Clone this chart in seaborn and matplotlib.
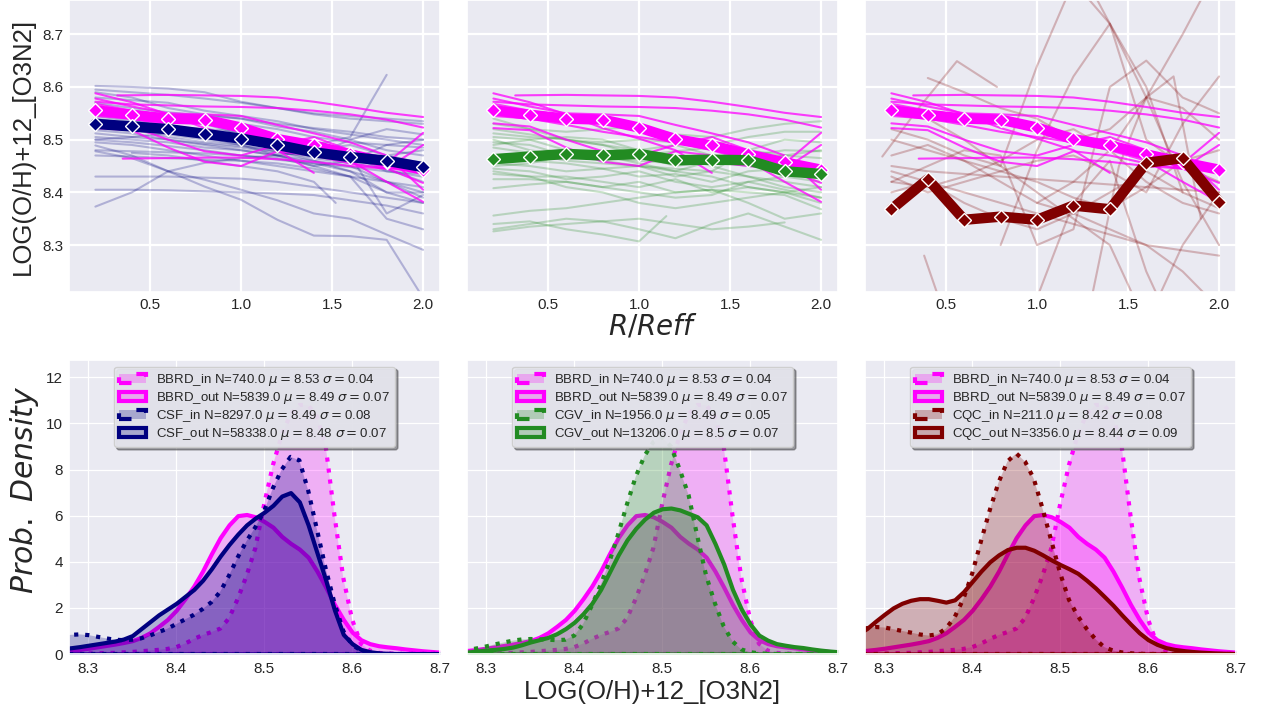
import numpy as np
import pandas as pd
import matplotlib
matplotlib.use("Agg")
import matplotlib.pyplot as plt
from matplotlib.colors import to_rgba
import seaborn as sns

# ---------------------------------------------------------------------------
# Radial metallicity profiles (R/Reff bins) and per-galaxy profiles
# ---------------------------------------------------------------------------
R_BINS = [0.2, 0.4, 0.6, 0.8, 1.0, 1.2, 1.4, 1.6, 1.8, 2.0]

median_bbrd = [8.556, 8.547, 8.540, 8.538, 8.523, 8.501, 8.489, 8.472, 8.457, 8.443]
median_csf = [8.530, 8.525, 8.520, 8.511, 8.502, 8.490, 8.476, 8.467, 8.460, 8.448]
median_cgv = [8.463, 8.468, 8.473, 8.470, 8.473, 8.461, 8.462, 8.461, 8.440, 8.435]
median_cqc = [8.368, 8.425, 8.348, 8.354, 8.348, 8.375, 8.368, 8.456, 8.465, 8.382]

# individual galaxies: (radii, values)
bbrd_profiles = [
    ([0.32, 0.6, 0.8, 1.0, 1.2, 1.4, 1.6, 1.8, 2.0],
     [8.584, 8.585, 8.584, 8.583, 8.580, 8.572, 8.562, 8.551, 8.543]),
    (R_BINS, [8.572, 8.567, 8.565, 8.563, 8.562, 8.560, 8.555, 8.548, 8.538, 8.523]),
    (R_BINS[:7], [8.588, 8.571, 8.548, 8.522, 8.502, 8.480, 8.437]),
    (R_BINS, [8.578, 8.563, 8.550, 8.548, 8.545, 8.528, 8.512, 8.495, 8.470, 8.405]),
    (R_BINS, [8.531, 8.525, 8.500, 8.478, 8.470, 8.490, 8.505, 8.480, 8.455, 8.513]),
    (R_BINS, [8.522, 8.518, 8.485, 8.458, 8.450, 8.478, 8.470, 8.455, 8.445, 8.490]),
    ([0.35, 0.6, 0.8, 1.0, 1.2, 1.4, 1.6, 1.8, 2.0],
     [8.464, 8.465, 8.466, 8.466, 8.463, 8.458, 8.450, 8.445, 8.440]),
    (R_BINS, [8.568, 8.555, 8.545, 8.530, 8.520, 8.505, 8.490, 8.470, 8.445, 8.418]),
    (R_BINS, [8.545, 8.540, 8.528, 8.515, 8.505, 8.495, 8.480, 8.460, 8.420, 8.382]),
]

csf_profiles = [
    (R_BINS, [8.602, 8.600, 8.597, 8.590, 8.572, 8.560, 8.548, 8.540, 8.535, 8.530]),
    (R_BINS, [8.595, 8.590, 8.585, 8.578, 8.570, 8.560, 8.550, 8.545, 8.540, 8.535]),
    (R_BINS, [8.590, 8.580, 8.560, 8.548, 8.540, 8.530, 8.522, 8.515, 8.505, 8.500]),
    (R_BINS, [8.580, 8.575, 8.570, 8.555, 8.545, 8.535, 8.520, 8.510, 8.500, 8.490]),
    (R_BINS, [8.570, 8.560, 8.552, 8.545, 8.540, 8.525, 8.515, 8.500, 8.480, 8.470]),
    (R_BINS, [8.560, 8.555, 8.548, 8.540, 8.530, 8.520, 8.505, 8.495, 8.490, 8.485]),
    (R_BINS, [8.555, 8.545, 8.540, 8.535, 8.520, 8.505, 8.490, 8.470, 8.440, 8.430]),
    (R_BINS[:9], [8.548, 8.545, 8.540, 8.530, 8.510, 8.500, 8.490, 8.505, 8.623]),
    (R_BINS, [8.545, 8.535, 8.525, 8.520, 8.515, 8.505, 8.495, 8.480, 8.460, 8.450]),
    (R_BINS, [8.540, 8.530, 8.522, 8.510, 8.500, 8.490, 8.480, 8.470, 8.360, 8.395]),
    (R_BINS, [8.535, 8.525, 8.515, 8.505, 8.495, 8.485, 8.470, 8.460, 8.450, 8.440]),
    (R_BINS, [8.530, 8.522, 8.510, 8.500, 8.490, 8.478, 8.465, 8.455, 8.445, 8.420]),
    (R_BINS, [8.525, 8.520, 8.505, 8.495, 8.488, 8.478, 8.460, 8.440, 8.420, 8.400]),
    (R_BINS, [8.518, 8.512, 8.500, 8.490, 8.480, 8.470, 8.460, 8.450, 8.420, 8.390]),
    (R_BINS, [8.512, 8.505, 8.500, 8.492, 8.485, 8.475, 8.470, 8.500, 8.520, 8.510]),
    (R_BINS, [8.505, 8.500, 8.495, 8.485, 8.480, 8.470, 8.455, 8.440, 8.400, 8.380]),
    (R_BINS, [8.500, 8.495, 8.488, 8.480, 8.470, 8.465, 8.450, 8.430, 8.350, 8.330]),
    (R_BINS, [8.495, 8.490, 8.480, 8.470, 8.460, 8.450, 8.440, 8.430, 8.420, 8.410]),
    (R_BINS, [8.489, 8.470, 8.440, 8.424, 8.405, 8.385, 8.360, 8.350, 8.320, 8.291]),
    (R_BINS, [8.480, 8.478, 8.476, 8.474, 8.470, 8.462, 8.455, 8.448, 8.440, 8.435]),
    (R_BINS, [8.478, 8.465, 8.440, 8.411, 8.386, 8.348, 8.318, 8.317, 8.310, 8.200]),
    (R_BINS, [8.470, 8.468, 8.465, 8.462, 8.460, 8.455, 8.445, 8.430, 8.400, 8.400]),
    (R_BINS, [8.430, 8.430, 8.430, 8.428, 8.426, 8.420, 8.410, 8.400, 8.390, 8.380]),
    (R_BINS, [8.405, 8.405, 8.404, 8.402, 8.400, 8.398, 8.395, 8.385, 8.375, 8.360]),
    (R_BINS, [8.373, 8.400, 8.440, 8.456, 8.465, 8.470, 8.480, 8.490, 8.470, 8.455]),
    ([0.4, 0.6, 0.8, 1.0, 1.2, 1.4, 1.52],
     [8.475, 8.470, 8.460, 8.450, 8.440, 8.420, 8.380]),
    (R_BINS, [8.500, 8.505, 8.512, 8.515, 8.505, 8.490, 8.470, 8.460, 8.470, 8.480]),
    (R_BINS, [8.560, 8.540, 8.520, 8.505, 8.490, 8.470, 8.450, 8.460, 8.490, 8.500]),
]

cgv_profiles = [
    (R_BINS, [8.530, 8.520, 8.515, 8.520, 8.525, 8.510, 8.505, 8.520, 8.530, 8.535]),
    (R_BINS, [8.520, 8.510, 8.500, 8.495, 8.500, 8.495, 8.490, 8.505, 8.515, 8.515]),
    (R_BINS, [8.512, 8.505, 8.500, 8.490, 8.470, 8.478, 8.485, 8.470, 8.480, 8.478]),
    (R_BINS, [8.505, 8.500, 8.480, 8.475, 8.480, 8.490, 8.470, 8.460, 8.470, 8.465]),
    (R_BINS, [8.495, 8.490, 8.470, 8.465, 8.460, 8.455, 8.470, 8.465, 8.455, 8.450]),
    (R_BINS, [8.485, 8.475, 8.460, 8.455, 8.450, 8.440, 8.460, 8.470, 8.450, 8.445]),
    (R_BINS, [8.470, 8.460, 8.455, 8.445, 8.430, 8.435, 8.420, 8.440, 8.445, 8.425]),
    (R_BINS, [8.455, 8.450, 8.440, 8.445, 8.450, 8.430, 8.440, 8.430, 8.420, 8.410]),
    (R_BINS, [8.445, 8.440, 8.425, 8.430, 8.440, 8.420, 8.410, 8.420, 8.405, 8.390]),
    (R_BINS, [8.435, 8.430, 8.430, 8.420, 8.410, 8.425, 8.400, 8.410, 8.400, 8.380]),
    (R_BINS, [8.425, 8.425, 8.420, 8.410, 8.420, 8.400, 8.405, 8.400, 8.395, 8.368]),
    (R_BINS, [8.408, 8.415, 8.420, 8.410, 8.400, 8.390, 8.395, 8.420, 8.430, 8.420]),
    (R_BINS, [8.356, 8.365, 8.370, 8.380, 8.390, 8.400, 8.405, 8.380, 8.350, 8.360]),
    (R_BINS[:9], [8.326, 8.335, 8.340, 8.345, 8.350, 8.340, 8.330, 8.335, 8.343]),
    ([0.2, 0.4, 0.6, 0.8, 1.0, 1.15], [8.340, 8.345, 8.330, 8.320, 8.307, 8.355]),
    (R_BINS, [8.330, 8.340, 8.350, 8.345, 8.330, 8.313, 8.340, 8.360, 8.335, 8.310]),
    (R_BINS, [8.540, 8.520, 8.500, 8.490, 8.480, 8.470, 8.460, 8.450, 8.440, 8.430]),
    (R_BINS, [8.470, 8.475, 8.480, 8.470, 8.455, 8.440, 8.430, 8.410, 8.400, 8.390]),
    (R_BINS, [8.450, 8.455, 8.470, 8.480, 8.470, 8.450, 8.460, 8.480, 8.470, 8.480]),
    (R_BINS, [8.490, 8.500, 8.505, 8.500, 8.480, 8.470, 8.450, 8.430, 8.410, 8.400]),
    (R_BINS, [8.440, 8.430, 8.410, 8.400, 8.380, 8.370, 8.380, 8.390, 8.400, 8.410]),
    (R_BINS, [8.500, 8.480, 8.470, 8.460, 8.450, 8.445, 8.440, 8.480, 8.500, 8.495]),
]

cqc_profiles = [
    ([0.15, 0.35, 0.56, 0.78], [8.468, 8.560, 8.649, 8.600]),
    (R_BINS[1:], [8.617, 8.590, 8.560, 8.540, 8.500, 8.520, 8.580, 8.560, 8.500]),
    (R_BINS, [8.440, 8.420, 8.400, 8.380, 8.360, 8.340, 8.320, 8.300, 8.290, 8.280]),
    (R_BINS, [8.520, 8.500, 8.470, 8.450, 8.640, 8.800, 8.720, 8.500, 8.450, 8.420]),
    ([0.38, 0.5], [8.280, 8.160]),
    (R_BINS, [8.420, 8.450, 8.480, 8.470, 8.300, 8.330, 8.600, 8.650, 8.580, 8.550]),
    (R_BINS, [8.560, 8.540, 8.500, 8.450, 8.400, 8.350, 8.300, 8.150, 8.300, 8.400]),
    (R_BINS, [8.470, 8.490, 8.460, 8.420, 8.380, 8.420, 8.480, 8.580, 8.700, 8.830]),
    (R_BINS[4:], [8.380, 8.360, 8.330, 8.300, 8.250, 8.180]),
    (R_BINS, [8.450, 8.440, 8.435, 8.430, 8.425, 8.420, 8.415, 8.410, 8.405, 8.400]),
    (R_BINS[3:9], [8.300, 8.480, 8.620, 8.720, 8.600, 8.400]),
    (R_BINS[4:9], [8.200, 8.380, 8.460, 8.250, 8.100]),
    (R_BINS, [8.420, 8.410, 8.430, 8.460, 8.500, 8.520, 8.480, 8.420, 8.380, 8.360]),
    (R_BINS, [8.500, 8.480, 8.460, 8.440, 8.420, 8.390, 8.370, 8.410, 8.460, 8.480]),
    (R_BINS[5:], [8.850, 8.720, 8.580, 8.420, 8.300]),
    (R_BINS, [8.400, 8.420, 8.380, 8.350, 8.330, 8.360, 8.400, 8.440, 8.400, 8.370]),
    (R_BINS, [8.430, 8.400, 8.420, 8.440, 8.460, 8.470, 8.440, 8.400, 8.530, 8.620]),
    ([1.3, 1.45, 1.6, 1.75, 1.9], [8.200, 8.450, 8.580, 8.620, 8.350]),
]

# ---------------------------------------------------------------------------
# Metallicity distributions (probability density on a 0.01 dex grid)
# ---------------------------------------------------------------------------
OH_GRID = np.round(np.arange(8.25, 8.7501, 0.01), 2)

dens_bbrd_in = [0.00, 0.00, 0.01, 0.01, 0.02, 0.02, 0.03, 0.04, 0.05, 0.07,
                0.09, 0.12, 0.15, 0.18, 0.22, 0.30, 0.45, 0.65, 0.82, 0.95,
                1.10, 1.55, 2.40, 3.40, 4.60, 6.50, 8.20, 9.50, 10.40, 10.80,
                10.80, 10.30, 9.00, 6.00, 3.30, 1.50, 0.45, 0.15, 0.05, 0.02,
                0.01, 0.00, 0.00, 0.00, 0.00, 0.00, 0.00, 0.00, 0.00, 0.00, 0.00]
dens_bbrd_out = [0.06, 0.09, 0.12, 0.16, 0.20, 0.25, 0.31, 0.37, 0.43, 0.50,
                 0.58, 0.72, 0.92, 1.20, 1.50, 1.90, 2.40, 2.95, 3.60, 4.35,
                 5.05, 5.60, 6.00, 6.05, 5.95, 5.75, 5.50, 5.10, 4.80, 4.55,
                 4.20, 3.60, 2.90, 2.15, 1.50, 0.95, 0.62, 0.45, 0.36, 0.31,
                 0.27, 0.22, 0.18, 0.14, 0.11, 0.08, 0.06, 0.04, 0.03, 0.02, 0.01]
dens_csf_in = [0.60, 0.70, 0.78, 0.83, 0.85, 0.82, 0.75, 0.68, 0.62, 0.60,
               0.62, 0.68, 0.80, 0.95, 1.10, 1.30, 1.50, 1.70, 1.95, 2.25,
               2.70, 3.40, 4.20, 4.90, 5.50, 6.20, 7.20, 8.00, 8.55, 8.40,
               7.10, 5.40, 3.70, 2.20, 1.00, 0.40, 0.15, 0.06, 0.02, 0.00,
               0.00, 0.00, 0.00, 0.00, 0.00, 0.00, 0.00, 0.00, 0.00, 0.00, 0.00]
dens_csf_out = [0.18, 0.20, 0.23, 0.27, 0.32, 0.38, 0.44, 0.50, 0.56, 0.65,
                0.80, 1.10, 1.40, 1.70, 1.95, 2.20, 2.50, 2.80, 3.20, 3.70,
                4.25, 4.75, 5.20, 5.60, 5.90, 6.15, 6.45, 6.85, 7.00, 6.60,
                5.60, 4.40, 3.20, 1.90, 0.85, 0.45, 0.20, 0.10, 0.05, 0.03,
                0.02, 0.01, 0.00, 0.00, 0.00, 0.00, 0.00, 0.00, 0.00, 0.00, 0.00]
dens_cgv_in = [0.05, 0.08, 0.12, 0.18, 0.25, 0.33, 0.42, 0.50, 0.58, 0.63,
               0.65, 0.64, 0.62, 0.60, 0.62, 0.80, 1.30, 2.10, 3.00, 4.00,
               5.20, 6.50, 7.70, 8.60, 9.20, 9.40, 9.00, 8.00, 6.90, 5.10,
               3.40, 2.20, 1.20, 0.55, 0.20, 0.08, 0.03, 0.01, 0.00, 0.00,
               0.00, 0.00, 0.00, 0.00, 0.00, 0.00, 0.00, 0.00, 0.00, 0.00, 0.00]
dens_cgv_out = [0.03, 0.04, 0.06, 0.09, 0.13, 0.17, 0.20, 0.24, 0.30, 0.40,
                0.52, 0.62, 0.72, 0.88, 1.10, 1.38, 1.75, 2.20, 2.80, 3.55,
                4.30, 4.95, 5.45, 5.85, 6.15, 6.30, 6.33, 6.25, 6.10, 5.95,
                5.60, 4.80, 3.90, 2.80, 1.95, 1.30, 0.82, 0.60, 0.45, 0.38,
                0.32, 0.28, 0.22, 0.17, 0.13, 0.10, 0.07, 0.05, 0.03, 0.02, 0.01]
dens_cqc_in = [0.85, 0.95, 1.05, 1.12, 1.17, 1.15, 1.08, 1.00, 0.93, 0.85,
               0.80, 0.85, 1.10, 1.60, 2.40, 3.50, 4.90, 6.25, 7.45, 8.35,
               8.70, 8.35, 7.60, 6.30, 4.90, 3.50, 2.35, 1.65, 1.10, 0.65,
               0.30, 0.15, 0.07, 0.03, 0.01, 0.00, 0.00, 0.00, 0.00, 0.00,
               0.00, 0.00, 0.00, 0.00, 0.00, 0.00, 0.00, 0.00, 0.00, 0.00, 0.00]
dens_cqc_out = [0.45, 0.65, 0.88, 1.10, 1.42, 1.72, 2.00, 2.20, 2.33, 2.40,
                2.40, 2.33, 2.25, 2.35, 2.70, 3.15, 3.60, 4.00, 4.30, 4.53,
                4.63, 4.63, 4.50, 4.30, 4.08, 3.88, 3.70, 3.50, 3.20, 2.87,
                2.50, 2.12, 1.70, 1.30, 0.92, 0.62, 0.42, 0.28, 0.20, 0.15,
                0.11, 0.08, 0.06, 0.04, 0.03, 0.02, 0.01, 0.01, 0.00, 0.00, 0.00]

# sample summaries shown in the legends
samples = ["BBRD_in", "BBRD_out", "CSF_in", "CSF_out",
           "CGV_in", "CGV_out", "CQC_in", "CQC_out"]
n_spax = [740.0, 5839.0, 8297.0, 58338.0, 1956.0, 13206.0, 211.0, 3356.0]
mu_oh = [8.53, 8.49, 8.49, 8.48, 8.49, 8.5, 8.42, 8.44]
sigma_oh = [0.04, 0.07, 0.08, 0.07, 0.05, 0.07, 0.08, 0.09]

densities = {
    "BBRD_in": dens_bbrd_in, "BBRD_out": dens_bbrd_out,
    "CSF_in": dens_csf_in, "CSF_out": dens_csf_out,
    "CGV_in": dens_cgv_in, "CGV_out": dens_cgv_out,
    "CQC_in": dens_cqc_in, "CQC_out": dens_cqc_out,
}

COL_BBRD = "#FF00FF"
groups = [
    ("CSF", "#000080", csf_profiles, median_csf),
    ("CGV", "#228B22", cgv_profiles, median_cgv),
    ("CQC", "#800000", cqc_profiles, median_cqc),
]

# ---------------------------------------------------------------------------
sns.set_theme(style="darkgrid")
plt.rcParams["font.family"] = ["Liberation Sans", "DejaVu Sans"]
plt.rcParams["mathtext.fontset"] = "dejavusans"
plt.rcParams["axes.labelcolor"] = "#262626"

W, H = 1262, 711
fig = plt.figure(figsize=(W / 100, H / 100), dpi=100)

lefts = [69, 467, 865]
PW = 371


def profiles_frame(profiles):
    rows = []
    for gid, (rr, vv) in enumerate(profiles):
        for r, v in zip(rr, vv):
            rows.append({"gal": gid, "r": r, "oh": v})
    return pd.DataFrame(rows)


def label_for(name):
    i = samples.index(name)
    return f"{name} N={n_spax[i]} $\\mu=${mu_oh[i]} $\\sigma=${sigma_oh[i]}"


bbrd_df = profiles_frame(bbrd_profiles)

for k, (gname, gcol, gprof, gmed) in enumerate(groups):
    # ---- top row: radial profiles
    ax = fig.add_axes([lefts[k] / W, 1 - 292 / H, PW / W, 292 / H])
    ax.grid(True, lw=1.6, color="white")
    gdf = profiles_frame(gprof)
    sns.lineplot(data=gdf, x="r", y="oh", units="gal", estimator=None,
                 color=gcol, alpha=0.25, lw=1.5, ax=ax, legend=False)
    sns.lineplot(data=bbrd_df, x="r", y="oh", units="gal", estimator=None,
                 color=COL_BBRD, alpha=0.75, lw=1.5, ax=ax, legend=False)
    sns.lineplot(x=R_BINS, y=median_bbrd, color=COL_BBRD, lw=7.5, marker="D",
                 markersize=7, markeredgecolor="white", markeredgewidth=1, ax=ax)
    sns.lineplot(x=R_BINS, y=gmed, color=gcol, lw=7.5, marker="D",
                 markersize=7, markeredgecolor="white", markeredgewidth=1, ax=ax)
    ax.set_xlim(0.055, 2.093)
    ax.set_ylim(8.211, 8.765)
    ax.set_xticks([0.5, 1.0, 1.5, 2.0])
    ax.set_yticks([8.3, 8.4, 8.5, 8.6, 8.7])
    ax.set_xlabel("")
    ax.set_ylabel("")
    ax.tick_params(labelsize=11, colors="#262626", length=0, pad=4.3)
    if k > 0:
        ax.tick_params(labelleft=False)

    # ---- bottom row: metallicity distributions
    bx = fig.add_axes([lefts[k] / W, 1 - 654 / H, PW / W, 294 / H])
    bx.grid(True, lw=0.9, color="white")
    for name, col in [("BBRD_in", COL_BBRD), ("BBRD_out", COL_BBRD),
                      (gname + "_in", gcol), (gname + "_out", gcol)]:
        ls = ":" if name.endswith("_in") else "-"
        bx.fill_between(OH_GRID, densities[name], 0,
                        facecolor=to_rgba(col, 0.25), edgecolor=col,
                        linewidth=3, linestyle=ls, label=label_for(name))
    bx.set_xlim(8.278, 8.7)
    bx.set_ylim(0, 12.75)
    bx.set_xticks([8.3, 8.4, 8.5, 8.6, 8.7])
    bx.set_yticks([0, 2, 4, 6, 8, 10, 12])
    bx.tick_params(labelsize=11, colors="#262626", length=0)
    bx.tick_params(axis="x", pad=5.5)
    bx.tick_params(axis="y", pad=4.3)
    if k > 0:
        bx.tick_params(labelleft=False)
    bx.legend(loc="upper center", fontsize=9.5, shadow=True, fancybox=True,
              framealpha=0.9, labelspacing=0.15)

fig.text(23 / W, 1 - 146 / H, "LOG(O/H)+12_[O3N2]", rotation=90,
         ha="center", va="center", fontsize=18.5, color="#262626")
fig.text(653 / W, 1 - 327 / H, "$R/Reff$", ha="center", va="center",
         fontsize=20, color="#262626")
fig.text(25 / W, 1 - 490 / H, r"$Prob.\ Density$", rotation=90,
         ha="center", va="center", fontsize=21.5, color="#262626")
fig.text(652 / W, 1 - 692 / H, "LOG(O/H)+12_[O3N2]", ha="center",
         va="center", fontsize=18.5, color="#262626")

fig.savefig("out.png", dpi=100)
